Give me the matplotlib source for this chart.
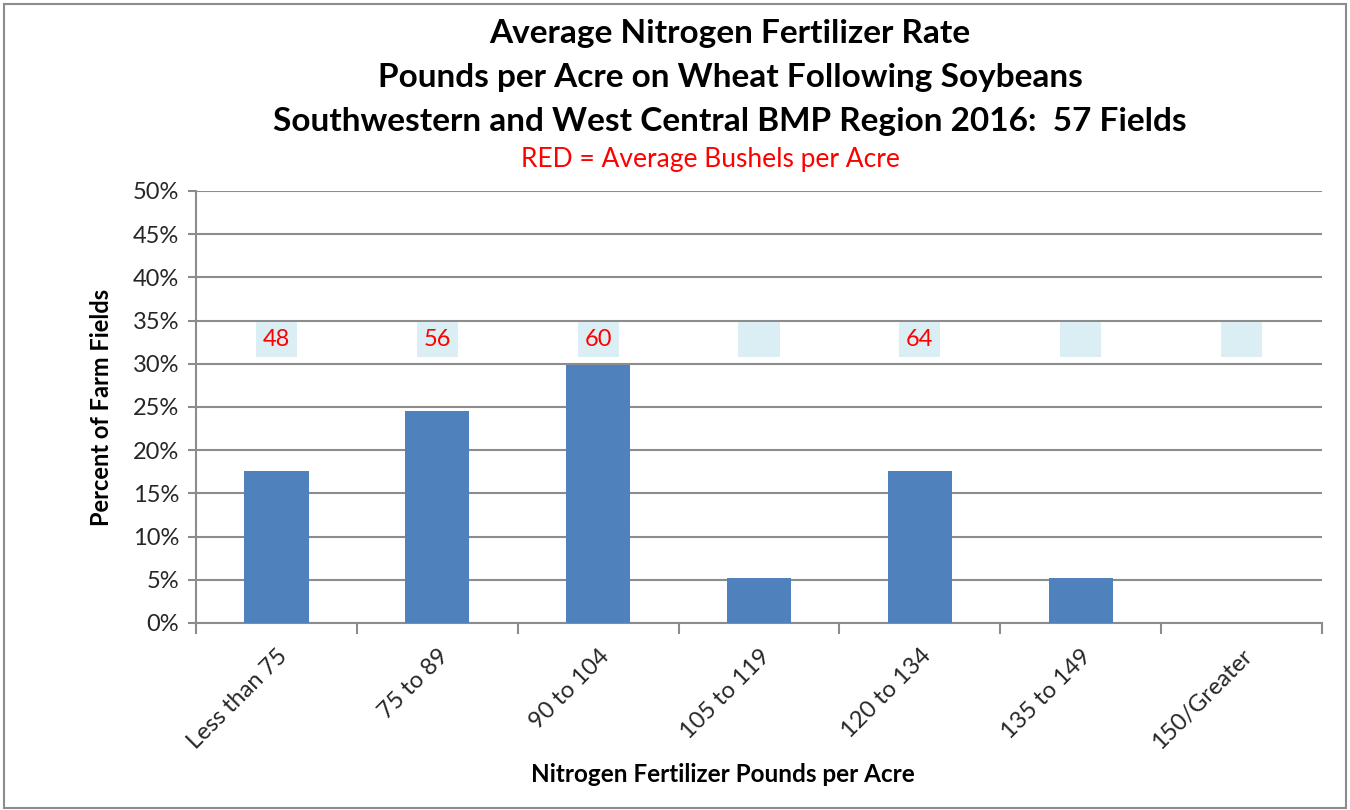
import numpy as np
import matplotlib.pyplot as plt
from matplotlib.patches import Rectangle

plt.rcParams['font.family'] = ['Lato', 'DejaVu Sans']

categories = ['Less than 75', '75 to 89', '90 to 104', '105 to 119',
              '120 to 134', '135 to 149', '150/Greater']
fields = [10, 14, 17, 3, 10, 3, 0]
total_fields = 57
pct = [f / total_fields for f in fields]
bushels = ['48', '56', '60', '', '64', '', '']

fig = plt.figure(figsize=(13.5, 8.1), dpi=100)
ax = fig.add_axes([0.1452, 0.2309, 0.8341, 0.5333])

x = np.arange(len(categories))
ax.bar(x, pct, width=0.4, color='#4F81BD', zorder=3)

# yield labels in light boxes
box_color = '#DAEEF3'
for xi, lab in zip(x, bushels):
    txt = lab if lab else '00'
    col = 'red' if lab else box_color
    ax.text(xi, 0.328, txt, ha='center', va='center', fontsize=17, color=col,
            zorder=4, bbox=dict(facecolor=box_color, edgecolor='none', pad=5))

ax.set_xlim(-0.5, len(categories) - 0.5)
ax.set_ylim(0, 0.5)
ax.set_yticks(np.arange(0, 0.51, 0.05))
ax.set_yticklabels([f'{int(round(v * 100))}%' for v in np.arange(0, 0.51, 0.05)])
ax.yaxis.grid(True, color='#8C8C8C', linewidth=1.5, zorder=0)
ax.set_axisbelow(True)

ax.set_xticks(np.arange(-0.5, len(categories), 1.0))
ax.set_xticklabels([])
ax.set_xticks(x, minor=True)
ax.set_xticklabels(categories, minor=True, rotation=45, ha='right',
                   rotation_mode='anchor', fontsize=17, color='#262626')
ax.tick_params(axis='x', which='minor', length=0, pad=16)
ax.tick_params(axis='x', which='major', length=8, width=1.5, color='#8C8C8C')
ax.tick_params(axis='y', length=6, width=1.5, color='#8C8C8C', labelsize=17,
               labelcolor='#262626', pad=6)

for s in ['top', 'right']:
    ax.spines[s].set_visible(False)
for s in ['left', 'bottom']:
    ax.spines[s].set_color('#8C8C8C')
    ax.spines[s].set_linewidth(1.5)

ax.set_ylabel('Percent of Farm Fields', fontsize=17, fontweight='bold', labelpad=14)
fig.text(723 / 1350, 1 - 775 / 810, 'Nitrogen Fertilizer Pounds per Acre',
         ha='center', va='center', fontsize=17.5, fontweight='bold')

title_lines = ['Average Nitrogen Fertilizer Rate',
               'Pounds per Acre on Wheat Following Soybeans',
               'Southwestern and West Central BMP Region 2016:  57 Fields']
for i, t in enumerate(title_lines):
    fig.text(730 / 1350, 1 - (33 + 44.5 * i) / 810, t,
             ha='center', va='center', fontsize=24, fontweight='bold')
fig.text(710 / 1350, 1 - 160 / 810, 'RED = Average Bushels per Acre',
         ha='center', va='center', fontsize=19, color='red')

fig.patches.append(Rectangle((0.003, 0.003), 0.994, 0.992, transform=fig.transFigure,
                             fill=False, edgecolor='#8C8C8C', linewidth=1.5))

fig.savefig('out.png', dpi=100)
